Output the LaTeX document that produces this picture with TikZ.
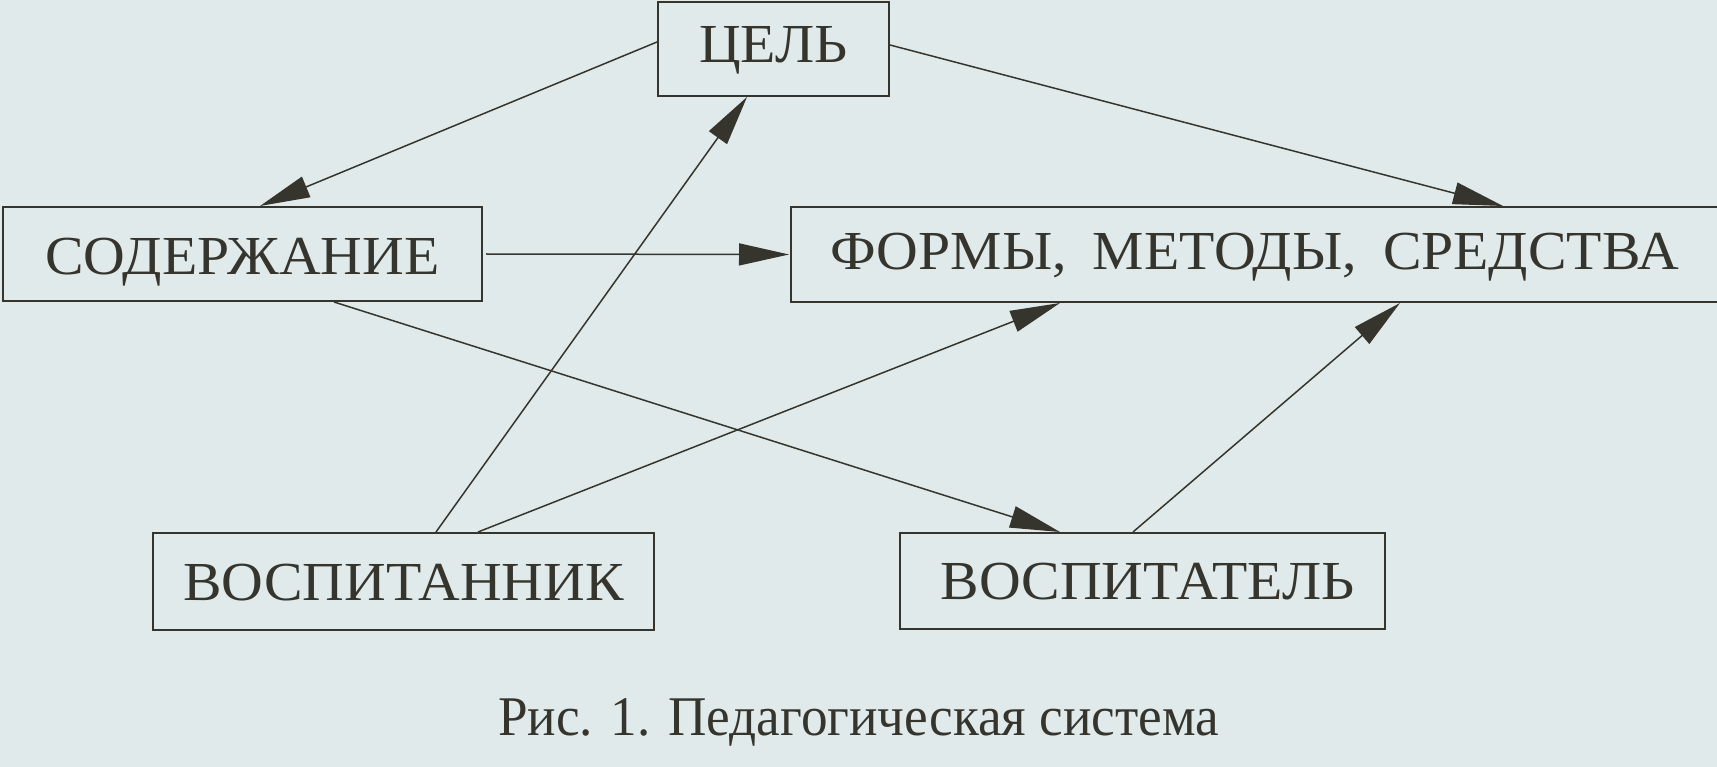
\documentclass[tikz,border=0pt]{standalone}
\usepackage{fontspec}
\usepackage{graphicx}
\setmainfont{Liberation Serif}
\usetikzlibrary{arrows.meta,calc}
\definecolor{bgcol}{HTML}{E1EAEB}
\definecolor{ink}{HTML}{36352D}
\newcommand{\wide}[1]{\scalebox{1.05}[1]{#1}}
\begin{document}
\begin{tikzpicture}[x=1pt,y=1pt,
  box/.style={draw=ink,line width=2pt,rectangle,inner sep=0pt,text=ink,
    font=\fontsize{55}{60}\selectfont,text height=37pt,text depth=0pt},
  conn/.style={draw=ink,line width=1.5pt,-{Triangle[length=50pt,width=22pt]}}]
\useasboundingbox (0,0) rectangle (1717,-767);
\fill[bgcol] (0,0) rectangle (1717,-767);
\node[box,minimum width=231pt,minimum height=94pt,text depth=10pt] (cel) at (773.5,-49) {\wide{ЦЕЛЬ}};
\node[box,minimum width=479pt,minimum height=94pt,text height=41pt] (sod) at (242.5,-254) {\wide{СОДЕРЖАНИЕ}};
\node[box,minimum width=939pt,minimum height=95pt,text depth=6pt] (form) at (1260.5,-254.5) {\wide{ФОРМЫ,\hspace{11pt} МЕТОДЫ,\hspace{11pt} СРЕДСТВА\hspace*{11pt}}};
\node[box,minimum width=501pt,minimum height=97pt] (vnik) at (403.5,-581.5) {\wide{ВОСПИТАННИК}};
\node[box,minimum width=485pt,minimum height=96pt] (vtel) at (1142.5,-581) {\wide{\hspace*{10pt}ВОСПИТАТЕЛЬ}};
\node[anchor=base west,inner sep=0pt,text=ink,font=\fontsize{56}{60}\selectfont] (cap) at (498,-735) {\scalebox{0.95}[1]{Рис. 1. Педагогическая система}};
\draw[conn] ($(cel.west)+(0,7)$) -- ($(sod.north)+(17.5,0)$);
\draw[conn] ($(cel.east)+(0,4)$) -- ($(form.north)+(242.5,0)$);
\draw[conn] ($(sod.east)+(3,0)$) -- ($(form.west)+(-1,0)$);
\draw[conn] ($(sod.south)+(91.5,0)$) -- ($(vtel.north)+(-82.5,0)$);
\draw[conn] ($(vnik.north)+(32.5,0)$) -- ($(cel.south)+(-26.5,0)$);
\draw[conn] ($(vnik.north)+(74.5,0)$) -- ($(form.south)+(-200.5,0)$);
\draw[conn] ($(vtel.north)+(-9.5,0)$) -- ($(form.south)+(139.5,0)$);
\end{tikzpicture}
\end{document}
